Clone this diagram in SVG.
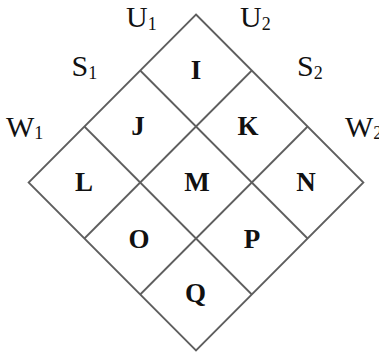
<svg xmlns="http://www.w3.org/2000/svg" width="379" height="353" viewBox="0 0 379 353">
<style>
.ln{fill:none;stroke:#5e5e5e;stroke-width:1.8;stroke-linejoin:miter}
.c{font-family:"Liberation Serif","Times New Roman",serif;font-weight:bold;font-size:27px;fill:#111;text-anchor:middle}
.lb{font-family:"Liberation Serif","Times New Roman",serif;font-size:30px;fill:#111}
.sb{font-size:18px}
</style>
<rect width="379" height="353" fill="#fff"/>
<g id="grid">
<polygon class="ln" points="196,14.5 363.4,182.5 196,350.5 28.6,182.5"/>
<line class="ln" x1="251.8" y1="70.5" x2="84.4" y2="238.5"/>
<line class="ln" x1="307.6" y1="126.5" x2="140.2" y2="294.5"/>
<line class="ln" x1="140.2" y1="70.5" x2="307.6" y2="238.5"/>
<line class="ln" x1="84.4" y1="126.5" x2="251.8" y2="294.5"/>
</g>
<g id="cell-I"><text class="c" x="196" y="79">I</text></g>
<g id="cell-J"><text class="c" x="138" y="135">J</text></g>
<g id="cell-K"><text class="c" x="248" y="135">K</text></g>
<g id="cell-L"><text class="c" x="84" y="191">L</text></g>
<g id="cell-M"><text class="c" x="197" y="191">M</text></g>
<g id="cell-N"><text class="c" x="306" y="191">N</text></g>
<g id="cell-O"><text class="c" x="139" y="248">O</text></g>
<g id="cell-P"><text class="c" x="252" y="248">P</text></g>
<g id="cell-Q"><text class="c" x="195.5" y="302">Q</text></g>
<g id="label-U1"><text class="lb" x="126" y="27">U<tspan class="sb" dy="2.5">1</tspan></text></g>
<g id="label-U2"><text class="lb" x="240" y="27">U<tspan class="sb" dy="2.5">2</tspan></text></g>
<g id="label-S1"><text class="lb" x="71.5" y="76">S<tspan class="sb" dy="2.5">1</tspan></text></g>
<g id="label-S2"><text class="lb" x="297" y="76">S<tspan class="sb" dy="2.5">2</tspan></text></g>
<g id="label-W1"><text class="lb" x="6" y="136.5">W<tspan class="sb" dy="2.5">1</tspan></text></g>
<g id="label-W2"><text class="lb" x="345" y="136.5">W<tspan class="sb" dy="2.5">2</tspan></text></g>
</svg>
